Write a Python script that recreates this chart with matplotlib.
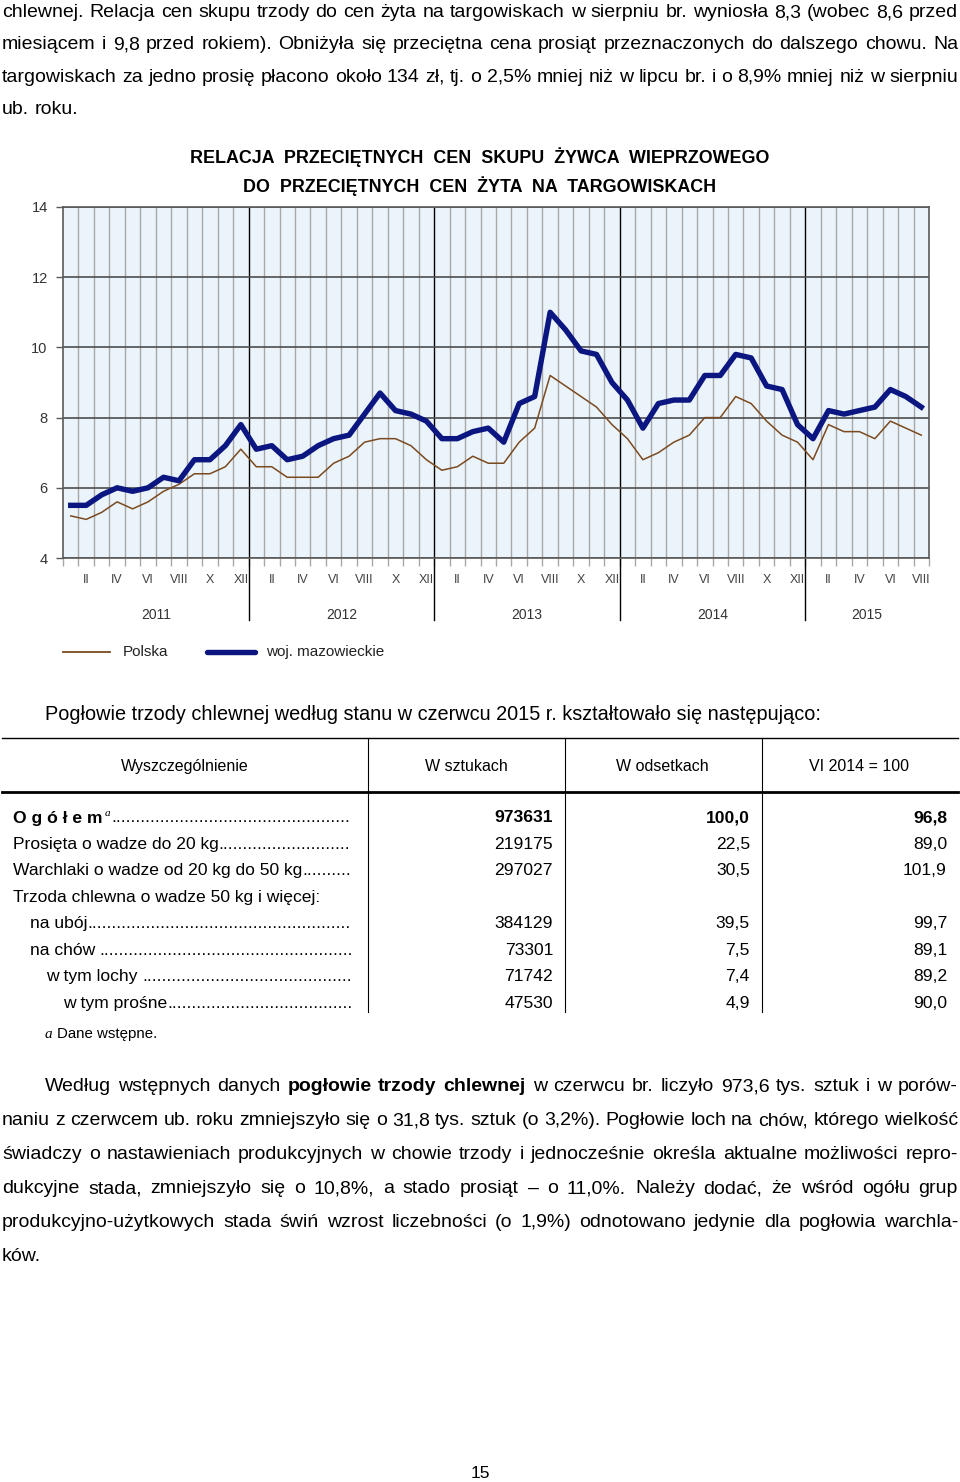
"""
Strona biuletynu: relacja cen skupu żywca wieprzowego do cen żyta + tabela pogłowia.
"""

import matplotlib
matplotlib.use('Agg')
import matplotlib.pyplot as plt
from matplotlib import font_manager
from matplotlib.lines import Line2D

W, H = 960, 1482

# --- dane wykresu (I 2011 - VIII 2015) ---
month_names = ['I', 'II', 'III', 'IV', 'V', 'VI', 'VII', 'VIII', 'IX', 'X', 'XI', 'XII']
years = ['2011', '2012', '2013', '2014', '2015']

polska = [5.2, 5.1, 5.3, 5.6, 5.4, 5.6, 5.9, 6.1, 6.4, 6.4, 6.6, 7.1,
          6.6, 6.6, 6.3, 6.3, 6.3, 6.7, 6.9, 7.3, 7.4, 7.4, 7.2, 6.8,
          6.5, 6.6, 6.9, 6.7, 6.7, 7.3, 7.7, 9.2, 8.9, 8.6, 8.3, 7.8,
          7.4, 6.8, 7.0, 7.3, 7.5, 8.0, 8.0, 8.6, 8.4, 7.9, 7.5, 7.3,
          6.8, 7.8, 7.6, 7.6, 7.4, 7.9, 7.7, 7.5]
mazowieckie = [5.5, 5.5, 5.8, 6.0, 5.9, 6.0, 6.3, 6.2, 6.8, 6.8, 7.2, 7.8,
               7.1, 7.2, 6.8, 6.9, 7.2, 7.4, 7.5, 8.1, 8.7, 8.2, 8.1, 7.9,
               7.4, 7.4, 7.6, 7.7, 7.3, 8.4, 8.6, 11.0, 10.5, 9.9, 9.8, 9.0,
               8.5, 7.7, 8.4, 8.5, 8.5, 9.2, 9.2, 9.8, 9.7, 8.9, 8.8, 7.8,
               7.4, 8.2, 8.1, 8.2, 8.3, 8.8, 8.6, 8.3]

# --- dane tabeli ---
row_labels = ['O g ó ł e m', 'Prosięta o wadze do 20 kg', 'Warchlaki o wadze od 20 kg do 50 kg',
              'Trzoda chlewna o wadze 50 kg i więcej:', 'na ubój', 'na chów ', 'w tym lochy ',
              'w tym prośne']
row_indent = [0, 0, 0, 0, 1, 1, 2, 3]
w_sztukach = ['973631', '219175', '297027', '', '384129', '73301', '71742', '47530']
w_odsetkach = ['100,0', '22,5', '30,5', '', '39,5', '7,5', '7,4', '4,9']
vi_2014 = ['96,8', '89,0', '101,9', '', '99,7', '89,1', '89,2', '90,0']
headers = ['Wyszczególnienie', 'W sztukach', 'W odsetkach', 'VI 2014 = 100']

top_lines = [
    'chlewnej. Relacja cen skupu trzody do cen żyta na targowiskach w sierpniu br. wyniosła 8,3 (wobec 8,6 przed',
    'miesiącem i 9,8 przed rokiem). Obniżyła się przeciętna cena prosiąt przeznaczonych do dalszego chowu. Na',
    'targowiskach za jedno prosię płacono około 134 zł, tj. o 2,5% mniej niż w lipcu br. i o 8,9% mniej niż w sierpniu',
    'ub. roku.',
]
bottom_lines = [
    'Według wstępnych danych **pogłowie trzody chlewnej** w czerwcu br. liczyło 973,6 tys. sztuk i w porów-',
    'naniu z czerwcem ub. roku zmniejszyło się o 31,8 tys. sztuk (o 3,2%). Pogłowie loch na chów, którego wielkość',
    'świadczy o nastawieniach produkcyjnych w chowie trzody i jednocześnie określa aktualne możliwości repro-',
    'dukcyjne stada, zmniejszyło się o 10,8%, a stado prosiąt – o 11,0%. Należy dodać, że wśród ogółu grup',
    'produkcyjno-użytkowych stada świń wzrost liczebności (o 1,9%) odnotowano jedynie dla pogłowia warchla-',
    'ków.',
]


def pick(families):
    names = {f.name for f in font_manager.fontManager.ttflist}
    for fam in families:
        if fam in names:
            return fam
    return 'DejaVu Sans'


SANS = pick(['Liberation Sans', 'Arial'])
NARROW = pick(['Liberation Sans Narrow', 'DejaVu Sans Condensed', 'Liberation Sans'])
SERIF = pick(['Liberation Serif', 'DejaVu Serif'])

BLUE = '#0b1680'
BROWN = '#7b4a20'
BODY = 14.0

fig = plt.figure(figsize=(W / 100, H / 100), dpi=100)
fig.patch.set_facecolor('white')
renderer = fig.canvas.get_renderer()


def fx(x):
    return x / W


def fy(y):
    return 1 - y / H


def put(x, y, s, **kw):
    kw.setdefault('va', 'baseline')
    return fig.text(fx(x), fy(y), s, **kw)


def width(t):
    return t.get_window_extent(renderer).width


def text_line(line, x0, x1, y, size, justify=True):
    # słowa z **pogrubieniem**
    words = []
    bold = False
    for w in line.split(' '):
        if w.startswith('**'):
            bold = True
            w = w[2:]
        end = w.endswith('**')
        if end:
            w = w[:-2]
        words.append((w, 'bold' if bold else 'normal'))
        if end:
            bold = False
    parts = [put(x0, y, w, fontsize=size, family=SANS, fontweight=wt) for w, wt in words]
    widths = [width(t) for t in parts]
    space = size * 100 / 72 * 0.278
    if justify and len(parts) > 1:
        gap = max((x1 - x0 - sum(widths)) / (len(parts) - 1), space * 0.6)
    else:
        gap = space
    x = x0
    for t, w in zip(parts, widths):
        t.set_x(fx(x))
        x += w + gap


# --- tekst górny ---
for k, ln in enumerate(top_lines):
    text_line(ln, 2, 958, 17 + 32.4 * k, BODY, justify=(k < len(top_lines) - 1))

# --- tytuł wykresu ---
put(480, 163, 'RELACJA  PRZECIĘTNYCH  CEN  SKUPU  ŻYWCA  WIEPRZOWEGO', ha='center',
    fontsize=12.9, family=NARROW, fontweight='bold')
put(480, 192, 'DO  PRZECIĘTNYCH  CEN  ŻYTA  NA  TARGOWISKACH', ha='center',
    fontsize=12.9, family=NARROW, fontweight='bold')

# --- wykres ---
ax = fig.add_axes([fx(63), fy(558), 866 / W, 351 / H])
ax.set_facecolor('#EBF3FB')
n = len(polska)
xs = [i + 0.5 for i in range(n)]
ax.set_xlim(0, n)
ax.set_ylim(4, 14)

for b in range(1, n):
    if b % 12:
        ax.axvline(b, color='#a8a8a8', lw=1.0, zorder=1)
for b in range(12, n, 12):
    ax.axvline(b, ymin=-0.177, ymax=1, color='black', lw=1.0, clip_on=False, zorder=2)
for v in range(4, 15, 2):
    ax.axhline(v, color='#4d4d4d', lw=1.2, zorder=2)

ax.plot(xs, polska, color=BROWN, lw=1.1, zorder=3)
ax.plot(xs, mazowieckie, color=BLUE, lw=3.9, zorder=4)

for side in ['left', 'right', 'top', 'bottom']:
    ax.spines[side].set_color('#5a5a5a')
    ax.spines[side].set_linewidth(1.2)

ax.set_yticks(range(4, 15, 2))
ax.tick_params(axis='y', length=5, width=1.0, color='#5a5a5a', pad=6,
               labelsize=10.5, labelcolor='#333333')
for lab in ax.get_yticklabels():
    lab.set_family(SANS)
ax.set_xticks(range(0, n + 1))
ax.set_xticklabels([])
ax.tick_params(axis='x', length=6, width=1.0, color='#a8a8a8', direction='out')

tr = ax.get_xaxis_transform()
for i in range(n):
    m = i % 12
    if m % 2 == 1:
        ax.text(i + 0.5, -0.063, month_names[m], transform=tr, ha='center', va='center',
                fontsize=9, family=NARROW, color='#444444')
for k, yr in enumerate(years):
    a, b = 12 * k, min(12 * k + 12, n)
    ax.text((a + b) / 2, -0.162, yr, transform=tr, ha='center', va='center',
            fontsize=10, family=NARROW, color='#333333')

# legenda
fig.add_artist(Line2D([fx(63), fx(110)], [fy(652), fy(652)], color=BROWN, lw=1.3))
put(123, 652, 'Polska', va='center', fontsize=11, family=NARROW, color='#222222')
fig.add_artist(Line2D([fx(207), fx(255)], [fy(652), fy(652)], color=BLUE, lw=3.9,
                      solid_capstyle='round'))
put(266, 652, 'woj. mazowieckie', va='center', fontsize=11, family=NARROW, color='#222222')

# --- tabela ---
put(45, 720, 'Pogłowie trzody chlewnej według stanu w czerwcu 2015 r. kształtowało się następująco:',
    fontsize=14.3, family=NARROW)

fig.add_artist(Line2D([fx(2), fx(958)], [fy(738), fy(738)], color='black', lw=1.0))
fig.add_artist(Line2D([fx(2), fx(958)], [fy(792), fy(792)], color='black', lw=2.0))
for vx in (368, 565, 762):
    fig.add_artist(Line2D([fx(vx), fx(vx)], [fy(738), fy(1012)], color='black', lw=0.8))

for hx, h in zip((185, 466, 662, 859), headers):
    put(hx, 771, h, ha='center', fontsize=11.5, family=NARROW)

dot_probe = put(0, -50, '.' * 40, fontsize=12.5, family=NARROW)
dot_w = width(dot_probe) / 40
dot_probe.remove()

for r, label in enumerate(row_labels):
    yb = 822.5 + 26.45 * r
    x0 = 13 + 16.7 * row_indent[r]
    wt = 'bold' if r == 0 else 'normal'
    t = put(x0, yb, label, fontsize=12.6, family=NARROW, fontweight=wt)
    xe = x0 + width(t)
    if r == 0:
        sup = put(xe + 2, yb - 6, 'a', fontsize=8, family=SERIF, style='italic')
        xe = xe + 2 + width(sup) + 1
    if w_sztukach[r]:
        nd = int((354 - xe) / dot_w)
        put(xe, yb, '.' * nd, fontsize=12.5, family=NARROW)
    put(553, yb, w_sztukach[r], ha='right', fontsize=12.6, family=NARROW, fontweight=wt)
    put(750, yb, w_odsetkach[r], ha='right', fontsize=12.6, family=NARROW, fontweight=wt)
    put(947, yb, vi_2014[r], ha='right', fontsize=12.6, family=NARROW, fontweight=wt)

put(45, 1038, 'a', fontsize=11, family=SERIF, style='italic')
put(57, 1038, 'Dane wstępne.', fontsize=10.8, family=SANS)

# --- tekst dolny ---
for k, ln in enumerate(bottom_lines):
    x0 = 45 if k == 0 else 2
    text_line(ln, x0, 958, 1091 + 34 * k, BODY, justify=(k < len(bottom_lines) - 1))

put(480, 1478, '15', ha='center', fontsize=12.5, family=SANS)

fig.savefig('out.png', dpi=100)
